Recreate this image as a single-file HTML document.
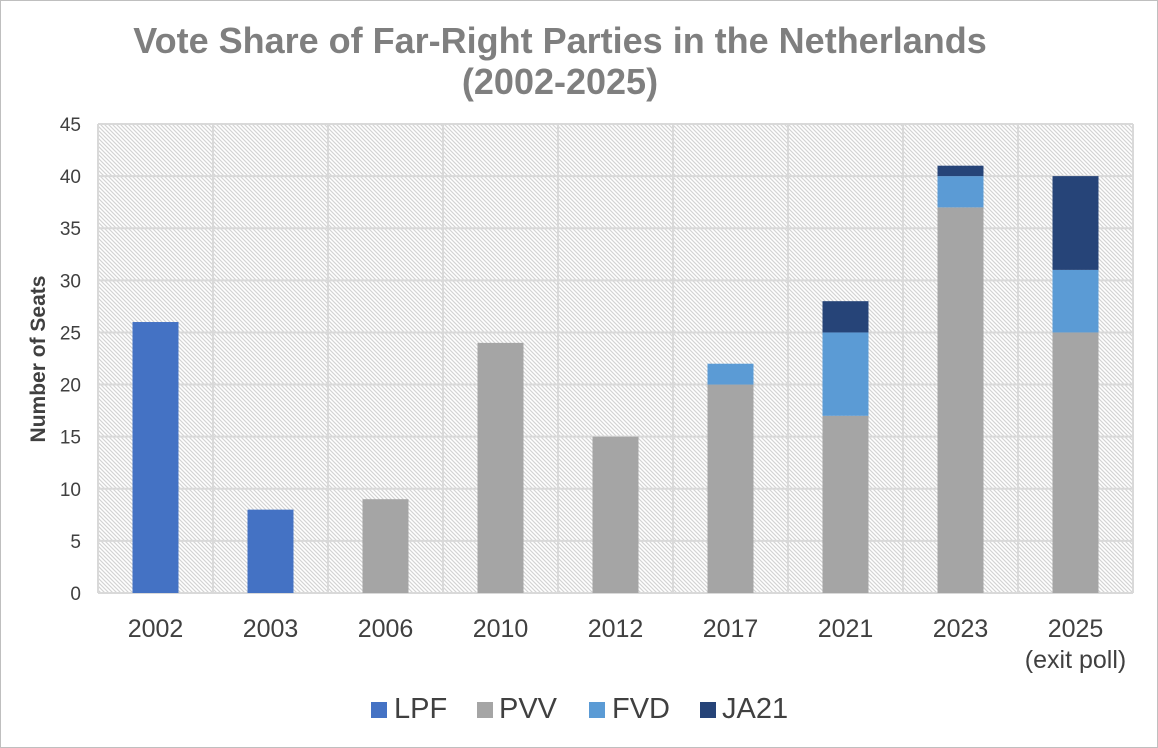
<!DOCTYPE html>
<html><head><meta charset="utf-8"><style>
html,body{margin:0;padding:0;background:#fff}
svg{display:block;font-family:"Liberation Sans",Arial,sans-serif}
</style></head><body>
<svg id="s" width="1158" height="748" viewBox="0 0 1158 748" xmlns="http://www.w3.org/2000/svg">
<defs>
<pattern id="h" width="4" height="4" patternUnits="userSpaceOnUse">
<rect width="4" height="4" fill="#fff"/>
<path d="M-1,-1 L5,5 M-1,3 L1,5 M3,-1 L5,1" stroke="#d4d4d4" stroke-width="1.2"/>
</pattern>
</defs>
<rect x="0.5" y="0.5" width="1157" height="747" fill="#fff" stroke="#bfbfbf"/>
<text x="560" y="53" text-anchor="middle" font-size="36" font-weight="bold" fill="#7f7f7f">Vote Share of Far-Right Parties in the Netherlands</text>
<text x="560" y="94" text-anchor="middle" font-size="36" font-weight="bold" fill="#7f7f7f">(2002-2025)</text>
<rect x="98" y="124" width="1035" height="469" fill="url(#h)"/>
<g id="g"></g>
<text transform="translate(45,359) rotate(-90)" text-anchor="middle" font-size="21" font-weight="bold" fill="#404040">Number of Seats</text>
<g font-size="29" fill="#404040">
<rect x="371" y="702" width="16" height="16" fill="#4472c4"/><text x="394" y="718">LPF</text>
<rect x="477" y="702" width="16" height="16" fill="#a5a5a5"/><text x="499" y="718">PVV</text>
<rect x="589" y="702" width="16" height="16" fill="#5b9bd5"/><text x="612" y="718">FVD</text>
<rect x="700" y="702" width="16" height="16" fill="#264478"/><text x="722" y="718">JA21</text>
</g>
</svg>
<script>
var g=document.getElementById('g'),s='';
var Y=function(v){return 593-v*469/45;};
for(var v=0;v<=45;v+=5){s+='<line x1="98" x2="1133" y1="'+Y(v)+'" y2="'+Y(v)+'" stroke="#d9d9d9" stroke-width="2"/>';
s+='<text x="81" y="'+(Y(v)+7)+'" text-anchor="end" font-size="19" fill="#404040">'+v+'</text>';}
for(var i=0;i<=9;i++){var x=98+115*i;s+='<line x1="'+x+'" x2="'+x+'" y1="124" y2="593" stroke="#d9d9d9" stroke-width="2"/>';}
var yrs=['2002','2003','2006','2010','2012','2017','2021','2023','2025'];
var d=[[26,0,0,0],[8,0,0,0],[0,9,0,0],[0,24,0,0],[0,15,0,0],[0,20,2,0],[0,17,8,3],[0,37,3,1],[0,25,6,9]];
var c=['#4472c4','#a5a5a5','#5b9bd5','#264478'];
for(var i=0;i<9;i++){var cx=155.5+115*i,acc=0;
for(var k=0;k<4;k++){var v=d[i][k];if(!v)continue;
s+='<rect x="'+(cx-23)+'" y="'+Y(acc+v)+'" width="46" height="'+(Y(acc)-Y(acc+v))+'" fill="'+c[k]+'"/>';acc+=v;}
s+='<text x="'+cx+'" y="637" text-anchor="middle" font-size="25" fill="#404040">'+yrs[i]+'</text>';}
s+='<text x="1075.5" y="668" text-anchor="middle" font-size="25" fill="#404040">(exit poll)</text>';
g.innerHTML=s;
</script>
</body></html>
